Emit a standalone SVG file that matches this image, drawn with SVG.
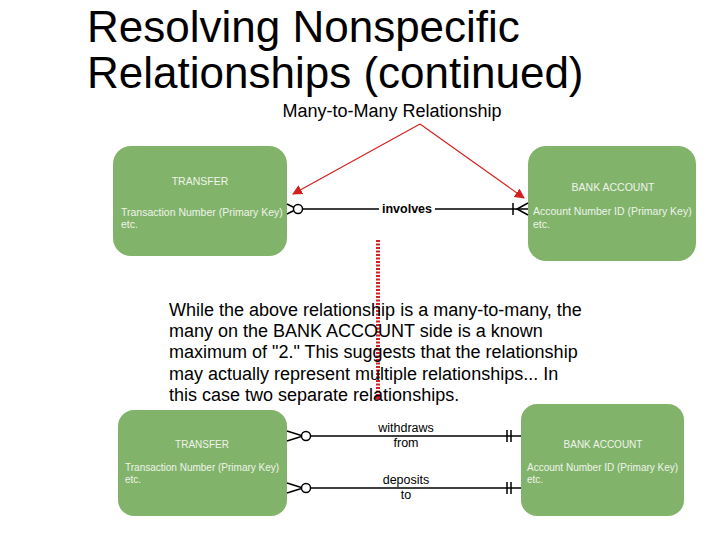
<svg xmlns="http://www.w3.org/2000/svg" width="720" height="540" viewBox="0 0 720 540">
<style>
.title{font-family:"Liberation Sans",Arial,sans-serif;font-size:44px;fill:#000}
.sub{font-family:"Liberation Sans",Arial,sans-serif;font-size:18px;fill:#000}
.para{font-family:"Liberation Sans",Arial,sans-serif;font-size:18px;fill:#000}
.box{fill:#82b36b}
.ent{font-family:"Liberation Sans",Arial,sans-serif;font-size:10.5px;fill:#eef4ea}
.entc{font-family:"Liberation Sans",Arial,sans-serif;font-size:10.5px;fill:#eef4ea;text-anchor:middle}
.ent2{font-family:"Liberation Sans",Arial,sans-serif;font-size:10px;fill:#eef4ea}
.entc2{font-family:"Liberation Sans",Arial,sans-serif;font-size:10px;fill:#eef4ea;text-anchor:middle}
.rel{font-family:"Liberation Sans",Arial,sans-serif;font-size:12.5px;font-weight:bold;fill:#000}
.rel2{font-family:"Liberation Sans",Arial,sans-serif;font-size:12.5px;fill:#000;text-anchor:middle}
.ln{stroke:#000;stroke-width:1.5;fill:none}
.red{stroke:#d42020;stroke-width:1.2;fill:none}
</style>
<defs>
<marker id="ah" markerWidth="10" markerHeight="10" refX="9" refY="5" orient="auto" markerUnits="userSpaceOnUse">
<path d="M0,0 L10,5 L0,10 z" fill="#d42020"/>
</marker>
</defs>
<text class="title" x="87" y="42">Resolving Nonspecific</text>
<text class="title" x="87" y="88">Relationships (continued)</text>
<text class="sub" x="392" y="117" text-anchor="middle">Many-to-Many Relationship</text>

<g id="transfer-top">
<rect class="box" x="113" y="146" width="174" height="110" rx="18"/>
<text class="entc" x="200" y="185">TRANSFER</text>
<text class="ent" x="121" y="216">Transaction Number (Primary Key)</text>
<text class="ent" x="121" y="228">etc.</text>
</g>
<g id="bank-top">
<rect class="box" x="528" y="146" width="168" height="115" rx="18"/>
<text class="entc" x="613" y="191">BANK ACCOUNT</text>
<text class="ent" x="533" y="215">Account Number ID (Primary Key)</text>
<text class="ent" x="533" y="228">etc.</text>
</g>
<g id="transfer-bottom">
<rect class="box" x="118" y="410" width="169" height="106" rx="16"/>
<text class="entc2" x="202" y="448">TRANSFER</text>
<text class="ent2" x="125" y="471">Transaction Number (Primary Key)</text>
<text class="ent2" x="125" y="483">etc.</text>
</g>
<g id="bank-bottom">
<rect class="box" x="521" y="404" width="163" height="112" rx="16"/>
<text class="entc2" x="603" y="448">BANK ACCOUNT</text>
<text class="ent2" x="527" y="471">Account Number ID (Primary Key)</text>
<text class="ent2" x="527" y="483">etc.</text>
</g>

<g id="connectors">
<path class="ln" d="M303,209 H379 M435,209 H528"/>
<path class="ln" d="M287,204 L297,209 L287,214"/>
<circle cx="298" cy="209" r="4.5" fill="#fff" stroke="#000" stroke-width="1.5"/>
<path class="ln" d="M513,203 V215 M528,203 L517,209 L528,215"/>
<text class="rel" x="407" y="213" text-anchor="middle">involves</text>
<path class="red" d="M420,124 L293,194" marker-end="url(#ah)"/>
<path class="red" d="M420,124 L524,198" marker-end="url(#ah)"/>
<path d="M378,240 V396" stroke="#d42020" stroke-width="4" stroke-dasharray="2,1.5"/>
<circle cx="378" cy="397" r="3" fill="#d42020"/>
<path class="ln" d="M311,436 H521"/>
<path class="ln" d="M287,431 L303,436 L287,441"/>
<circle cx="306" cy="436" r="4.5" fill="#fff" stroke="#000" stroke-width="1.5"/>
<path class="ln" d="M507,430 V442 M511,430 V442"/>
<text class="rel2" x="406" y="432">withdraws</text>
<text class="rel2" x="406" y="447">from</text>
<path class="ln" d="M311,488 H521"/>
<path class="ln" d="M287,483 L303,488 L287,493"/>
<circle cx="306" cy="488" r="4.5" fill="#fff" stroke="#000" stroke-width="1.5"/>
<path class="ln" d="M507,482 V494 M511,482 V494"/>
<text class="rel2" x="406" y="484">deposits</text>
<text class="rel2" x="406" y="499">to</text>
</g>

<g id="paragraph">
<text class="para" x="169" y="316">While the above relationship is a many-to-many, the</text>
<text class="para" x="169" y="337">many on the BANK ACCOUNT side is a known</text>
<text class="para" x="169" y="358">maximum of "2." This suggests that the relationship</text>
<text class="para" x="169" y="380">may actually represent multiple relationships... In</text>
<text class="para" x="169" y="401">this case two separate relationships.</text>
</g>
</svg>
